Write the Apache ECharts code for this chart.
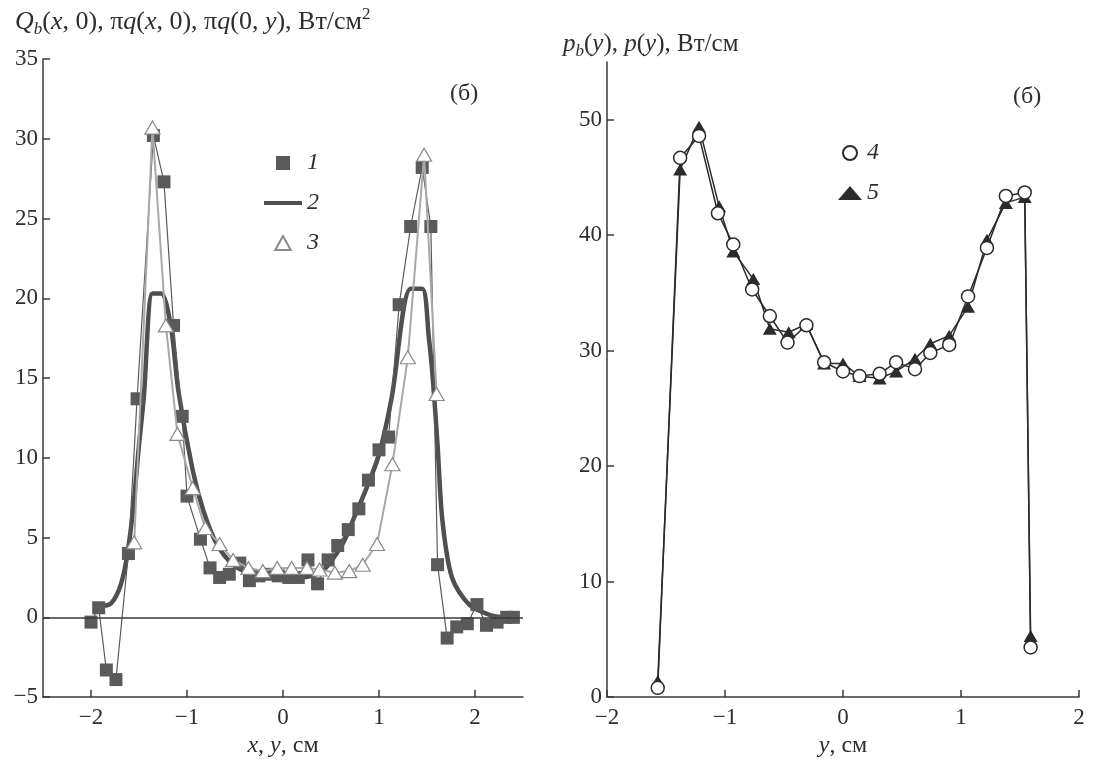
<!DOCTYPE html>
<html><head><meta charset="utf-8">
<script src="https://cdn.jsdelivr.net/npm/echarts@6/dist/echarts.min.js"></script>
<style>html,body{margin:0;padding:0;background:#fff}#c{width:1096px;height:763px}</style>
</head><body><div id="c"></div>
<script>
// ---- Left panel data: Q_b(x,0), πq(x,0), πq(0,y), Вт/см² ----
const sq1X = [-2.0,-1.92,-1.84,-1.74,-1.61,-1.52,-1.35,-1.24,-1.14,-1.05,-1.0,-0.86,-0.76,-0.66,-0.56,-0.45,-0.35,-0.25,-0.15,-0.05,0.06,0.16,0.26,0.36,0.47,0.57,0.68,0.79,0.89,1.0,1.1,1.21,1.33,1.45,1.54,1.61,1.71,1.81,1.92,2.02,2.12,2.23,2.33,2.4];
const sq1Y = [-0.3,0.6,-3.3,-3.9,4.0,13.7,30.2,27.3,18.3,12.6,7.6,4.9,3.1,2.5,2.7,3.4,2.3,2.6,2.7,2.6,2.5,2.5,3.6,2.1,3.6,4.5,5.5,6.8,8.6,10.5,11.3,19.6,24.5,28.2,24.5,3.3,-1.3,-0.6,-0.4,0.8,-0.5,-0.3,0,0];
const curve2X = [-1.97,-1.81,-1.71,-1.64,-1.57,-1.5,-1.45,-1.36,-1.27,-1.17,-1.09,-0.94,-0.83,-0.69,-0.52,-0.31,-0.06,0.18,0.41,0.62,0.73,0.87,1.0,1.13,1.33,1.45,1.52,1.56,1.61,1.66,1.76,1.94,2.18,2.32];
const curve2Y = [0.7,0.8,1.7,3.3,6.3,10.8,13.8,20.3,20.3,18.3,14.2,9.2,6.7,4.6,3.3,2.7,2.5,2.5,2.9,4.6,6.1,8.1,10.2,13.7,20.6,20.6,17.5,15.0,10.8,6.1,2.5,0.8,0.1,0];
const tri3X = [-1.55,-1.36,-1.22,-1.1,-0.94,-0.81,-0.66,-0.52,-0.36,-0.21,-0.06,0.09,0.25,0.38,0.54,0.69,0.83,0.98,1.14,1.3,1.47,1.6];
const tri3Y = [4.7,30.7,18.3,11.5,8.1,5.6,4.6,3.6,3.1,2.9,3.1,3.1,3.1,3.0,2.8,2.9,3.3,4.6,9.6,16.3,29.0,14.0];
const leftXTicks = [-2,-1,0,1,2];

// ---- Right panel data: p_b(y), p(y), Вт/см ----
const c4X = [-1.57,-1.38,-1.22,-1.06,-0.93,-0.77,-0.62,-0.47,-0.31,-0.16,0,0.14,0.31,0.45,0.61,0.74,0.9,1.06,1.22,1.38,1.54,1.59];
const c4Y = [0.8,46.7,48.6,41.9,39.2,35.3,33.0,30.7,32.2,29.0,28.2,27.8,28.0,29.0,28.4,29.8,30.5,34.7,38.9,43.4,43.7,4.3];
const t5X = [-1.57,-1.38,-1.22,-1.05,-0.93,-0.76,-0.62,-0.46,-0.31,-0.16,0,0.14,0.31,0.45,0.61,0.74,0.9,1.06,1.22,1.38,1.54,1.59];
const t5Y = [1.4,45.7,49.4,42.5,38.6,36.2,31.9,31.6,32.3,28.9,28.9,27.8,27.6,28.2,29.3,30.6,31.3,33.8,39.6,42.8,43.3,5.3];
const rightYTicks = [0,10,20,30,40,50];

const zip = (xs, ys) => xs.map((x, i) => [x, ys[i]]);
const FF = 'Liberation Serif';
const TC = '#2e2e2e';
const AX = '#3a3a3a';
const FS = 24;
const minus = v => String(v).replace('-', '\u2212');

function makeRich(fs) {
  const sub = Math.round(fs * 0.66);
  return {
    n: {fontFamily: FF, fontSize: fs, fontWeight: 'normal', color: TC, lineHeight: fs + 6},
    i: {fontFamily: FF, fontSize: fs, fontWeight: 'normal', color: TC, fontStyle: 'italic', lineHeight: fs + 6},
    sub: {fontFamily: FF, fontSize: sub, fontWeight: 'normal', color: TC, fontStyle: 'italic', lineHeight: sub, verticalAlign: 'bottom'},
    sup: {fontFamily: FF, fontSize: sub, fontWeight: 'normal', color: TC, lineHeight: sub, verticalAlign: 'top'}
  };
}
const richBase = makeRich(FS);

const axisCommon = {
  axisLine: {show: true, onZero: false, lineStyle: {color: AX, width: 1.5}},
  axisTick: {show: true, inside: true, length: 7, lineStyle: {color: AX, width: 1.5}},
  axisLabel: {fontFamily: FF, fontSize: 23, color: TC, formatter: minus},
  splitLine: {show: false}
};

const chart = echarts.init(document.getElementById('c'), null, {renderer: 'canvas'});
chart.setOption({
  animation: false,
  backgroundColor: '#fff',
  title: [
    {left: 10, top: 1, text: '{i|Q}{sub|b}{n|(}{i|x}{n|, 0), π}{i|q}{n|(}{i|x}{n|, 0), π}{i|q}{n|(0, }{i|y}{n|), Вт/см}{sup|2}', textStyle: {fontWeight: 'normal', rich: makeRich(26)}},
    {left: 558, top: 24, text: '{i|p}{sub|b}{n|(}{i|y}{n|), }{i|p}{n|(}{i|y}{n|), Вт/см}', textStyle: {fontWeight: 'normal', rich: makeRich(25)}}
  ],
  grid: [
    {left: 43, right: 573, top: 59, bottom: 65},
    {left: 607, right: 17, top: 62, bottom: 61}
  ],
  xAxis: [
    Object.assign({}, axisCommon, {gridIndex: 0, type: 'value', min: -2.5, max: 2.5,
      axisTick: Object.assign({}, axisCommon.axisTick, {customValues: leftXTicks}),
      axisLabel: Object.assign({}, axisCommon.axisLabel, {customValues: leftXTicks, margin: 9}),
      name: '{i|x}{n|, }{i|y}{n|, см}', nameLocation: 'middle', nameGap: 32, nameTextStyle: {rich: richBase}}),
    Object.assign({}, axisCommon, {gridIndex: 1, type: 'value', min: -2, max: 2, interval: 1,
      axisLabel: Object.assign({}, axisCommon.axisLabel, {margin: 9}),
      name: '{i|y}{n|, см}', nameLocation: 'middle', nameGap: 32, nameTextStyle: {rich: richBase}})
  ],
  yAxis: [
    Object.assign({}, axisCommon, {gridIndex: 0, type: 'value', min: -5, max: 35, interval: 5,
      axisLabel: Object.assign({}, axisCommon.axisLabel, {margin: 5})}),
    Object.assign({}, axisCommon, {gridIndex: 1, type: 'value', min: 0, max: 55,
      axisTick: Object.assign({}, axisCommon.axisTick, {customValues: rightYTicks}),
      axisLabel: Object.assign({}, axisCommon.axisLabel, {customValues: rightYTicks, margin: 5})})
  ],
  legend: [
    {orient: 'vertical', left: 259, top: 146, itemWidth: 38, itemHeight: 14, itemGap: 16, selectedMode: false,
      textStyle: {fontFamily: FF, fontSize: FS, fontStyle: 'italic', color: TC},
      data: [
        {name: '1', icon: 'path://M0,0h10v10h-10z'},
        {name: '2', icon: 'path://M0,0h100v11h-100z'},
        {name: '3', icon: 'path://M5,0L10,9L0,9Z'}
      ]},
    {orient: 'vertical', left: 833, top: 136, itemWidth: 24, itemHeight: 14, itemGap: 16, selectedMode: false,
      textStyle: {fontFamily: FF, fontSize: FS, fontStyle: 'italic', color: TC},
      data: [
        {name: '4', icon: 'circle'},
        {name: '5', icon: 'triangle'}
      ]}
  ],
  graphic: [
    {type: 'text', left: 450, top: 82, style: {text: '(б)', fontFamily: FF, fontSize: FS, fill: TC}},
    {type: 'text', left: 1013, top: 85, style: {text: '(б)', fontFamily: FF, fontSize: FS, fill: TC}}
  ],
  series: [
    {name: '2', type: 'line', xAxisIndex: 0, yAxisIndex: 0, data: zip(curve2X, curve2Y),
      showSymbol: false, symbol: 'none', smooth: 0.3, z: 2,
      color: '#4f4f4f', itemStyle: {color: '#4f4f4f'},
      lineStyle: {color: '#4f4f4f', width: 4.5},
      markLine: {silent: true, symbol: 'none', label: {show: false},
        lineStyle: {color: '#3a3a3a', width: 1.5, type: 'solid'}, data: [{yAxis: 0}]}},
    {name: '1', type: 'line', xAxisIndex: 0, yAxisIndex: 0, data: zip(sq1X, sq1Y),
      symbol: 'rect', symbolSize: 13, z: 3,
      itemStyle: {color: '#5a5a5a'}, lineStyle: {color: '#5a5a5a', width: 1.2}},
    {name: '3', type: 'line', xAxisIndex: 0, yAxisIndex: 0, data: zip(tri3X, tri3Y),
      symbol: 'triangle', symbolSize: [15, 13], z: 4,
      itemStyle: {color: '#ffffff', borderColor: '#8a8a8a', borderWidth: 1.2},
      lineStyle: {color: '#a8a8a8', width: 2}},
    {name: '5', type: 'line', xAxisIndex: 1, yAxisIndex: 1, data: zip(t5X, t5Y),
      symbol: 'triangle', symbolSize: [14, 12], z: 3,
      itemStyle: {color: '#2b2b2b'}, lineStyle: {color: '#2b2b2b', width: 1.5}},
    {name: '4', type: 'line', xAxisIndex: 1, yAxisIndex: 1, data: zip(c4X, c4Y),
      symbol: 'circle', symbolSize: 13, z: 4,
      itemStyle: {color: '#ffffff', borderColor: '#2b2b2b', borderWidth: 1.5},
      lineStyle: {color: '#2b2b2b', width: 1.5}}
  ]
});
</script>
</body></html>
